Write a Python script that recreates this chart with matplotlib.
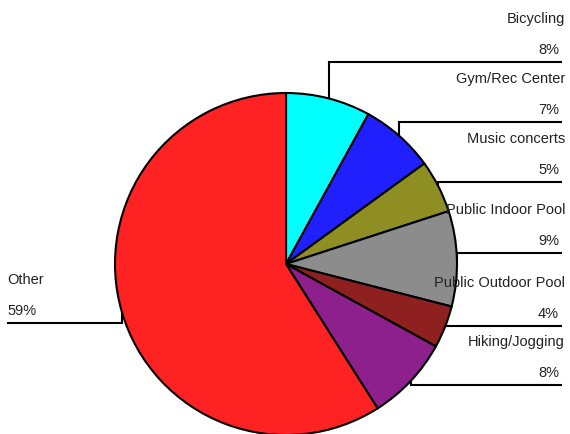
import numpy as np
import matplotlib.pyplot as plt

# activity shares, clockwise from 12 o'clock
categories = ["Bicycling", "Gym/Rec Center", "Music concerts", "Public Indoor Pool",
              "Public Outdoor Pool", "Hiking/Jogging", "Other"]
shares = [8, 7, 5, 9, 4, 8, 59]
pct_labels = ["8%", "7%", "5%", "9%", "4%", "8%", "59%"]
colors = ["#00ffff", "#2020ff", "#8e8e22", "#8c8c8c", "#8e2020", "#8e208e", "#ff2222"]

# label rows (pixel rows from top) and side
label_rows = [62, 122, 182, 253, 326, 385, 323]
label_side = ["r", "r", "r", "r", "r", "r", "l"]

plt.rcParams["font.family"] = ["Liberation Sans", "DejaVu Sans"]

W, H = 570, 434
fig = plt.figure(figsize=(W / 100, H / 100), dpi=100)
ax = fig.add_axes([0, 0, 1, 1])

cx, cy, r = 286, H - 264, 171
wedges, _ = ax.pie(shares, colors=colors, startangle=90, counterclock=False,
                   center=(cx, cy), radius=r, frame=True,
                   wedgeprops=dict(edgecolor="black", linewidth=1.5))
ax.set_xlim(0, W)
ax.set_ylim(0, H)
ax.set_aspect("equal")
ax.axis("off")

for w, name, pct, row, side in zip(wedges, categories, pct_labels, label_rows, label_side):
    mid = np.deg2rad((w.theta1 + w.theta2) / 2)
    ex, ey = cx + r * np.cos(mid), cy + r * np.sin(mid)
    ly = H - row
    if side == "r":
        x_end, ha, tx, px = 562, "right", 565, 559
    else:
        x_end, ha, tx, px = 7, "left", 7, 7
    ax.plot([ex, ex, x_end], [ey, ly, ly], color="black", lw=1.5,
            solid_capstyle="butt", solid_joinstyle="miter")
    ax.text(tx, ly + 43, name, ha=ha, va="center", fontsize=10.5, color="#222222")
    ax.text(px, ly + 12, pct, ha=ha, va="center", fontsize=10.5, color="#222222")

fig.savefig("out.png", dpi=100)
